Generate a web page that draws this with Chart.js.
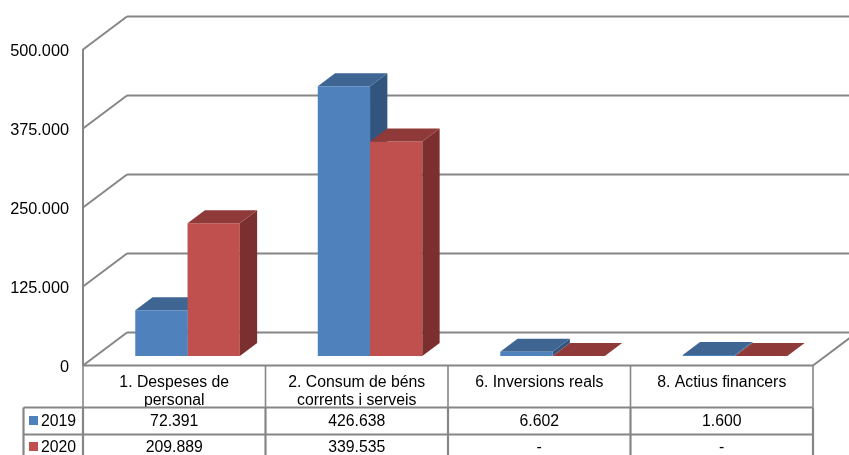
<!DOCTYPE html>
<html>
<head>
<meta charset="utf-8">
<title>Despeses 2019-2020</title>
<script src="https://cdn.jsdelivr.net/npm/chart.js@4/dist/chart.umd.min.js"></script>
<style>
  html, body { margin: 0; padding: 0; background: #fff; overflow: hidden; }
  #wrap { width: 849px; height: 455px; }
</style>
</head>
<body>
<div id="wrap"><canvas id="chart"></canvas></div>
<script>
const categories = [
  ["1. Despeses de", "personal"],
  ["2. Consum de béns", "corrents i serveis"],
  "6. Inversions reals",
  "8. Actius financers"
];
const seriesNames = ["2019", "2020"];
const values2019 = [72391, 426638, 6602, 1600];
const values2020 = [209889, 339535, 0, 0];
const yTicks = [0, 125000, 250000, 375000, 500000];

const GREY = "#868686";
const FONT = "'Liberation Sans', Arial, sans-serif";
const FACES = [
  { front: "#4F81BD", top: "#3F6693", side: "#32557F" },
  { front: "#C0504D", top: "#8F3A38", side: "#7B2F2E" }
];

// depth of the box walls and of each 3d bar
const WALL_DX = 44, WALL_DY = -33;
const BAR_DX = 17.3, BAR_DY = -13;
// bars stand on the floor, a bit behind the front edge
const SHIFT_X = 13.3, SHIFT_Y = -9.5;

function fmt(v) {
  return String(v).replace(/\B(?=(\d{3})+$)/g, ".");
}

function poly(ctx, pts, color) {
  ctx.fillStyle = color;
  ctx.beginPath();
  pts.forEach((p, i) => i ? ctx.lineTo(p[0], p[1]) : ctx.moveTo(p[0], p[1]));
  ctx.closePath();
  ctx.fill();
}

function line(ctx, x1, y1, x2, y2, width) {
  ctx.lineWidth = width;
  ctx.beginPath();
  ctx.moveTo(x1, y1);
  ctx.lineTo(x2, y2);
  ctx.stroke();
}

// side and top faces of one series, the front comes from the library
function drawDepth(chart, index) {
  const { ctx } = chart;
  const face = FACES[index];
  chart.getDatasetMeta(index).data.forEach(bar => {
    const l = bar.x - bar.width / 2, r = bar.x + bar.width / 2;
    poly(ctx, [[r, bar.y], [r + BAR_DX, bar.y + BAR_DY], [r + BAR_DX, bar.base + BAR_DY], [r, bar.base]], face.side);
    poly(ctx, [[l, bar.y], [l + BAR_DX, bar.y + BAR_DY], [r + BAR_DX, bar.y + BAR_DY], [r, bar.y]], face.top);
  });
}

const box3d = {
  id: "box3d",
  beforeDatasetsDraw(chart) {
    const { ctx, chartArea: a, scales: { y } } = chart;
    ctx.save();
    ctx.strokeStyle = GREY;
    yTicks.forEach(t => {
      const py = y.getPixelForValue(t);
      line(ctx, a.left, py, a.left + WALL_DX, py + WALL_DY, 2);
      line(ctx, a.left + WALL_DX, py + WALL_DY, chart.width, py + WALL_DY, 2);
    });
    // floor, right edge
    line(ctx, a.right, a.bottom, a.right + WALL_DX, a.bottom + WALL_DY, 2);
    ctx.restore();
    // moved onto the floor until afterDatasetsDraw; 2019 goes behind the 2020 fronts
    ctx.save();
    ctx.translate(SHIFT_X, SHIFT_Y);
    drawDepth(chart, 0);
  },
  afterDatasetsDraw(chart) {
    drawDepth(chart, 1);
    chart.ctx.restore();
  },
  afterDraw(chart) {
    const { ctx, chartArea: a, scales: { x } } = chart;
    const step = (a.right - a.left) / categories.length;
    const rows = [values2019, values2020];
    const rowTop = [407.5, 434.5], rowText = [421.5, 447.5];
    const keyLeft = 23.5;
    ctx.save();
    ctx.strokeStyle = GREY;
    // table lines
    line(ctx, a.left, a.bottom, a.right, a.bottom, 2);
    for (let i = 0; i <= categories.length; i++) {
      const px = a.left + step * i;
      line(ctx, px, a.bottom, px, rowTop[0], 1.6);
      line(ctx, px, rowTop[0], px, chart.height, 2.2);
    }
    rowTop.forEach(py => line(ctx, keyLeft, py, a.right, py, 2.2));
    line(ctx, keyLeft, rowTop[0], keyLeft, chart.height, 2.2);
    // table rows
    ctx.font = "15.8px " + FONT;
    ctx.textBaseline = "middle";
    ctx.fillStyle = "#000";
    rows.forEach((vals, r) => {
      ctx.textAlign = "center";
      vals.forEach((v, i) => {
        ctx.fillText(v === 0 ? "-" : fmt(v), x.getPixelForValue(i), rowText[r]);
      });
      ctx.fillStyle = FACES[r].front;
      ctx.fillRect(29, rowText[r] - 5.5, 9, 9);
      ctx.fillStyle = "#000";
      ctx.textAlign = "left";
      ctx.fillText(seriesNames[r], 41, rowText[r]);
    });
    ctx.restore();
  }
};

new Chart(document.getElementById("chart"), {
  type: "bar",
  data: {
    labels: categories,
    datasets: [
      { label: seriesNames[0], data: values2019, backgroundColor: FACES[0].front, clip: false },
      { label: seriesNames[1], data: values2020, backgroundColor: FACES[1].front, clip: false }
    ]
  },
  options: {
    responsive: true,
    maintainAspectRatio: false,
    animation: false,
    devicePixelRatio: 1,
    categoryPercentage: 0.573,
    barPercentage: 1,
    layout: { padding: { top: 49.5, right: 36, left: 0, bottom: 0 } },
    plugins: { legend: { display: false }, tooltip: { enabled: false } },
    scales: {
      x: {
        grid: { display: false },
        border: { display: false },
        afterFit(scale) { scale.height = 89.5; },
        ticks: {
          autoSkip: false,
          maxRotation: 0,
          padding: 0,
          color: "#000",
          font: { family: FONT, size: 15.8, lineHeight: 1.13 }
        }
      },
      y: {
        min: 0,
        max: 500000,
        afterFit(scale) { scale.width = 83; },
        afterBuildTicks(scale) { scale.ticks = yTicks.map(value => ({ value })); },
        grid: { display: false },
        border: { display: true, color: GREY, width: 2 },
        ticks: {
          padding: 6,
          labelOffset: 2.5,
          color: "#000",
          font: { family: FONT, size: 16.3 },
          callback: v => fmt(v)
        }
      }
    }
  },
  plugins: [box3d]
});
</script>
</body>
</html>
